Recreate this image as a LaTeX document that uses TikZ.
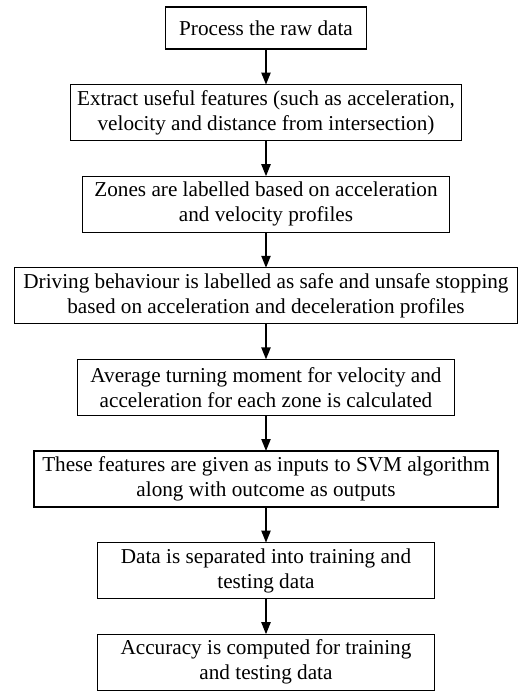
\documentclass[tikz,border=0pt]{standalone}
\usepackage{fontspec}
\setmainfont{Liberation Serif}
\usetikzlibrary{arrows.meta, positioning}

\begin{document}
\begin{tikzpicture}[
            > = {Triangle[length=6pt, width=4.6pt]}, % arrow head style
            node distance = 17.8pt, % gap between boxes
            font = \fontsize{10.6}{12.5}\selectfont,
            line width = 0.8pt % line style
        ]

        \tikzstyle{stepbox}=[
            draw = black,
            line width = 0.6pt,
            fill = white,
            align = center,
            inner sep = 0pt,
            outer sep = 0pt,
            minimum height = 28pt
        ]

	\useasboundingbox (0,0) rectangle (259pt,-346pt);

	\node[stepbox, anchor=north, minimum width=100.5pt, minimum height=21pt] (raw) at (133pt,-3.5pt) {Process the raw data};
	\node[stepbox, minimum width=195.5pt] (feat) [below=of raw] {Extract useful features (such as acceleration,\\ velocity and distance from intersection)};
	\node[stepbox, minimum width=183.5pt] (zone) [below=of feat] {Zones are labelled based on acceleration\\ and velocity profiles};
	\node[stepbox, minimum width=251.5pt] (drive) [below=of zone] {Driving behaviour is labelled as safe and unsafe stopping\\ based on acceleration and deceleration profiles};
	\node[stepbox, minimum width=188.5pt] (avg) [below=of drive] {Average turning moment for velocity and\\ acceleration for each zone is calculated};
	\node[stepbox, minimum width=232pt] (svm) [below=of avg] {These features are given as inputs to SVM algorithm\\ along with outcome as outputs};
	\node[stepbox, minimum width=168.5pt] (split) [below=of svm] {Data is separated into training and\\ testing data};
	\node[stepbox, minimum width=168.5pt] (acc) [below=of split] {Accuracy is computed for training\\ and testing data};

	\path[->] (raw) edge (feat);
	\path[->] (feat) edge (zone);
	\path[->] (zone) edge (drive);
	\path[->] (drive) edge (avg);
	\path[->] (avg) edge (svm);
	\path[->] (svm) edge (split);
	\path[->] (split) edge (acc);

    \end{tikzpicture}
\end{document}
